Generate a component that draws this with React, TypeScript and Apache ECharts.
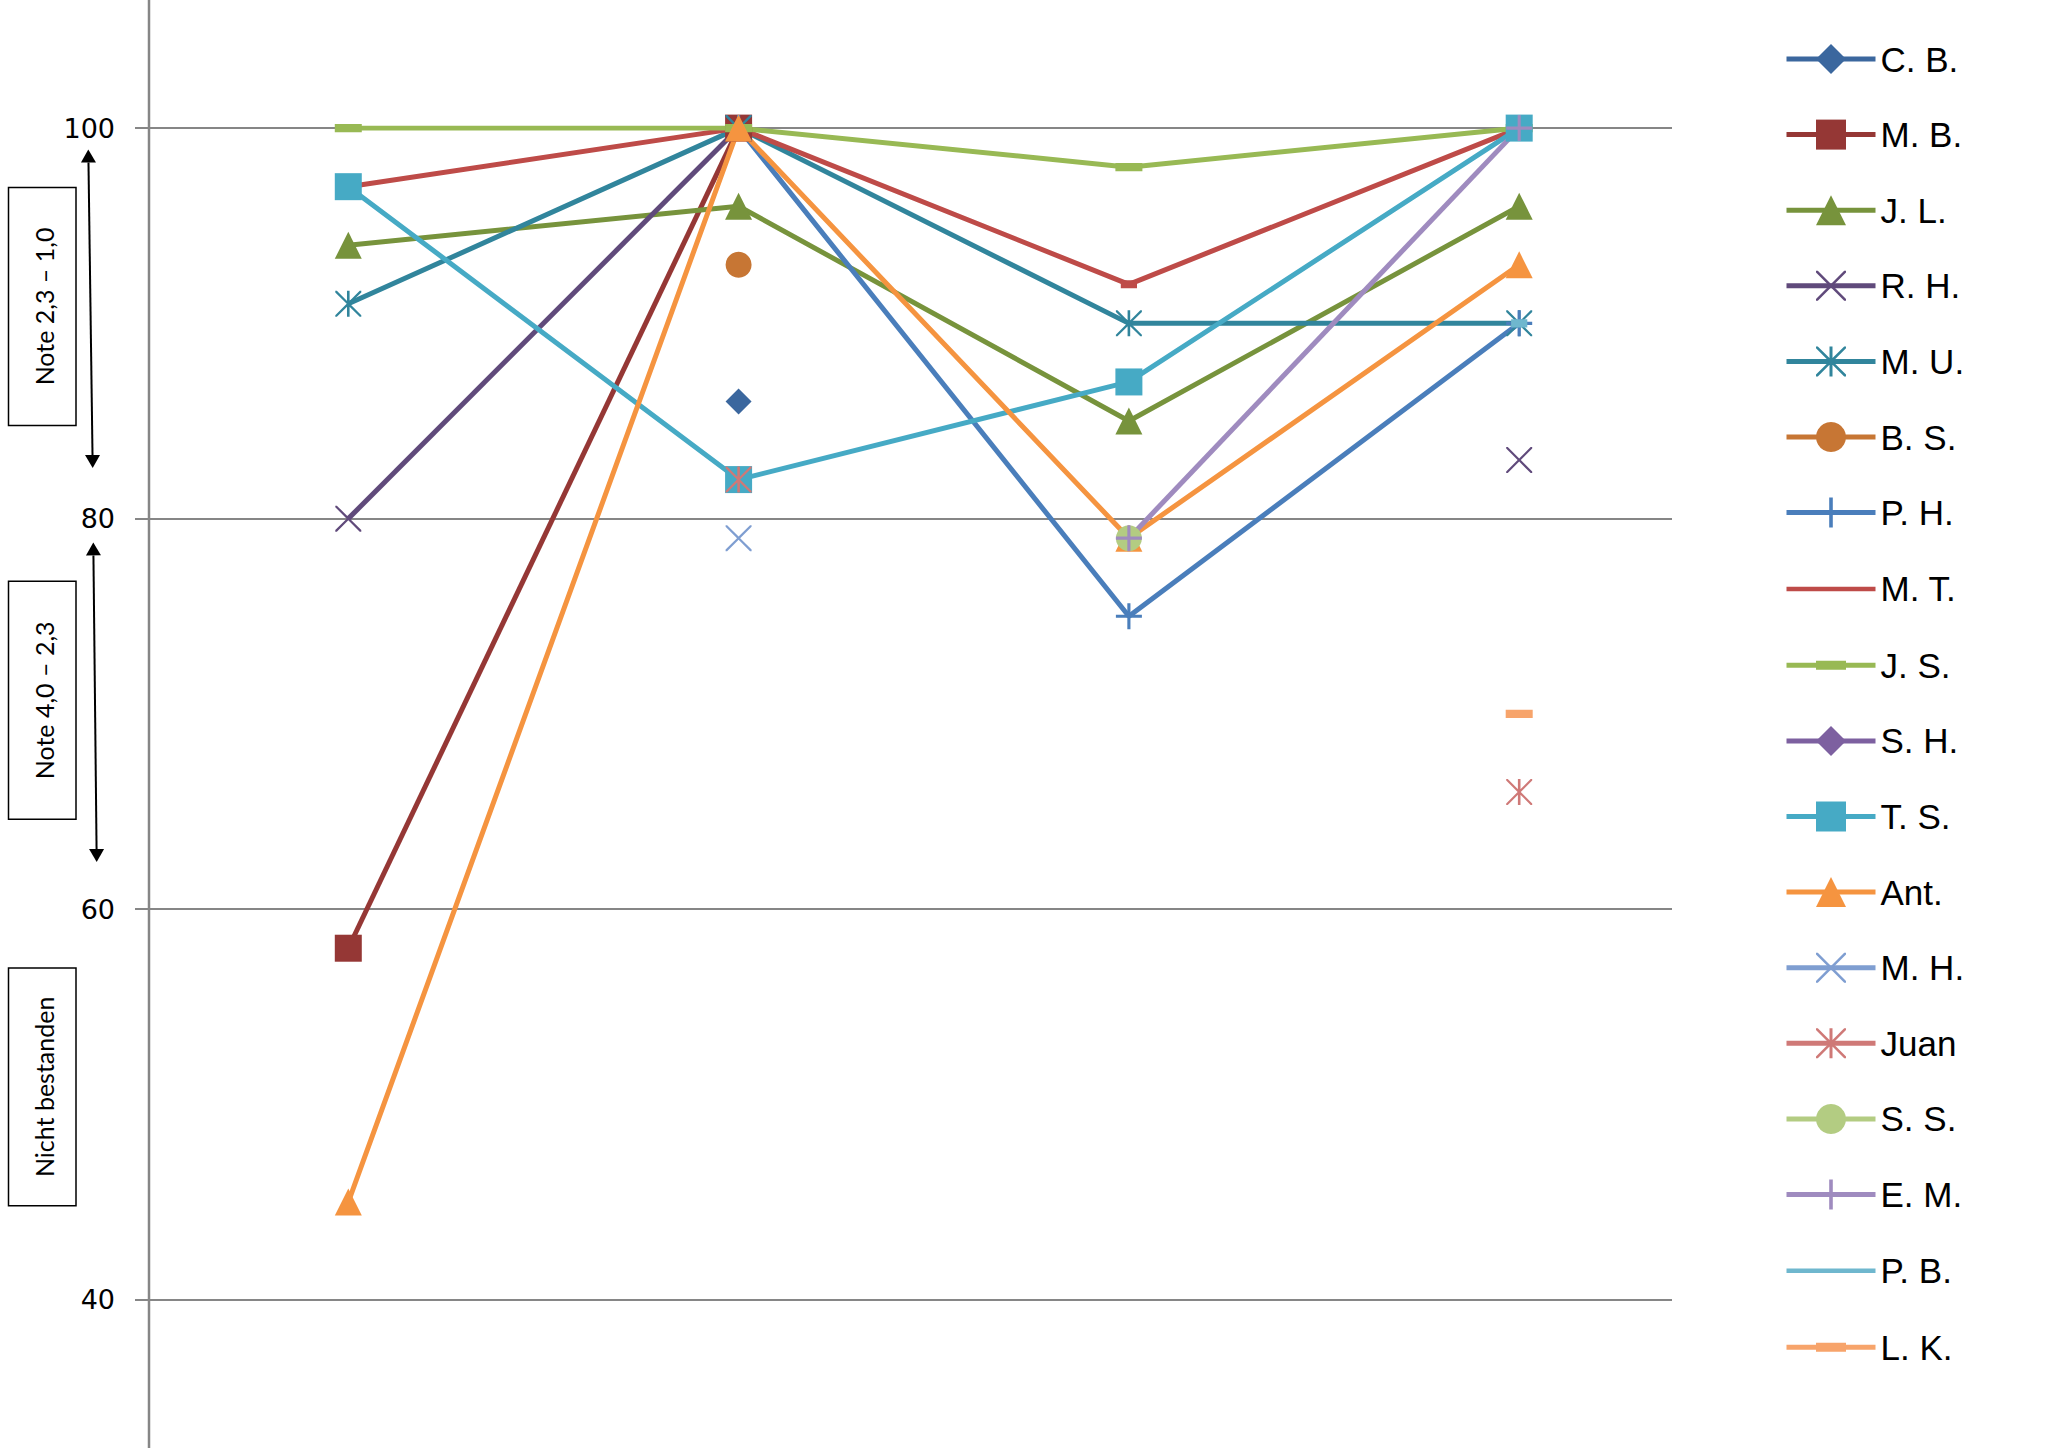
import React, { useEffect, useRef } from "react";
import * as echarts from "echarts";

// ---- data ----
const exams = [1, 2, 3, 4];
const yTickValues = [40, 60, 80, 100];

const studentNames = [
  "C. B.", "M. B.", "J. L.", "R. H.", "M. U.", "B. S.", "P. H.", "M. T.", "J. S.",
  "S. H.", "T. S.", "Ant.", "M. H.", "Juan", "S. S.", "E. M.", "P. B.", "L. K.",
];

const cbScores = [null, 86, null, null];
const mbScores = [58, 100, null, null];
const jlScores = [94, 96, 85, 96];
const rhScores = [80, 100, null, 83];
const muScores = [91, 100, 90, 90];
const bsScores = [null, 93, null, null];
const phScores = [null, 100, 75, 90];
const mtScores = [97, 100, 92, 100];
const jsScores = [100, 100, 98, 100];
const shScores = [null, null, null, null];
const tsScores = [97, 82, 87, 100];
const antScores = [45, 100, 79, 93];
const mhScores = [null, 79, null, null];
const juanScores = [null, 82, null, 66];
const ssScores = [null, null, 79, null];
const emScores = [null, null, 79, 100];
const pbScores = [null, null, null, 90];
const lkScores = [null, null, null, 70];

const allScores = [
  cbScores, mbScores, jlScores, rhScores, muScores, bsScores, phScores, mtScores, jsScores,
  shScores, tsScores, antScores, mhScores, juanScores, ssScores, emScores, pbScores, lkScores,
];

const markerKinds = [
  "diamond", "square", "triangle", "x", "star", "circle", "plus", "dot", "dash",
  "diamond", "square", "triangle", "x", "star", "circle", "plus", "dot", "dash",
];

const seriesColors = [
  "#3B679E", "#953735", "#77933C", "#604A7B", "#31859C", "#C77634", "#4A7EBB", "#BE4B48", "#98B954",
  "#7D60A0", "#46AAC5", "#F59440", "#7F9ED1", "#CF7977", "#B3CC82", "#9F8BBF", "#6FB7CE", "#F7A46B",
];

// ---- marker shapes ----
const X_D = "M0,0L1.2,0L10,8.8L18.8,0L20,0L20,1.2L11.2,10L20,18.8L20,20L18.8,20L10,11.2L1.2,20L0,20L0,18.8L8.8,10L0,1.2Z";
const symbolFor = (kind: string) => {
  switch (kind) {
    case "diamond": return { symbol: "diamond", size: 26 };
    case "square": return { symbol: "rect", size: 27 };
    case "triangle": return { symbol: "triangle", size: 27 };
    case "circle": return { symbol: "circle", size: 26 };
    case "x": return { symbol: "path://" + X_D, size: 26 };
    case "star": return { symbol: "path://" + X_D + "M9,0L11,0L11,20L9,20Z", size: 26 };
    case "plus": return { symbol: "path://M8.8,0L11.2,0L11.2,8.8L20,8.8L20,11.2L11.2,11.2L11.2,20L8.8,20L8.8,11.2L0,11.2L0,8.8L8.8,8.8Z", size: 26 };
    case "dot": return { symbol: "path://M0,0L0.05,0L0,0.05Z M4,7L16,7L16,13L4,13Z M20,20L19.95,20L20,19.95Z", size: 27 };
    case "dash": return { symbol: "path://M0,0L0.05,0L0,0.05Z M0,7L20,7L20,13L0,13Z M20,20L19.95,20L20,19.95Z", size: 27 };
    default: return { symbol: "circle", size: 26 };
  }
};

// plain line legend icon (for the "dot" marker series, whose legend shows only a line)
const PLAIN_LINE_ICON = "path://M0,0L0.05,0L0,0.05Z M0,16.5L89,16.5L89,21L0,21Z M89,37.5L88.95,37.5L89,37.45Z";

// ---- annotation helpers ----
function arrow(x1: number, y1: number, x2: number, y2: number) {
  const len = Math.hypot(x2 - x1, y2 - y1);
  const dx = (x2 - x1) / len, dy = (y2 - y1) / len;
  const px = -dy, py = dx;
  const hl = 13, hw = 7.5;
  const b1 = [x1 + dx * hl, y1 + dy * hl];
  const b2 = [x2 - dx * hl, y2 - dy * hl];
  return [
    { type: "line", shape: { x1: b1[0], y1: b1[1], x2: b2[0], y2: b2[1] }, style: { stroke: "#000", lineWidth: 2 } },
    { type: "polygon", shape: { points: [[x1, y1], [b1[0] + px * hw, b1[1] + py * hw], [b1[0] - px * hw, b1[1] - py * hw]] }, style: { fill: "#000" } },
    { type: "polygon", shape: { points: [[x2, y2], [b2[0] + px * hw, b2[1] + py * hw], [b2[0] - px * hw, b2[1] - py * hw]] }, style: { fill: "#000" } },
  ];
}

function noteBox(y1: number, y2: number, label: string) {
  return [
    { type: "rect", shape: { x: 8.5, y: y1, width: 67.5, height: y2 - y1 }, style: { fill: "#fff", stroke: "#000", lineWidth: 1.5 } },
    {
      type: "text", x: 44, y: (y1 + y2) / 2, rotation: Math.PI / 2,
      style: { text: label, fontFamily: "Lato", fontSize: 25, fill: "#000", align: "center", verticalAlign: "middle" },
    },
  ];
}

export default function App() {
  const ref = useRef<HTMLDivElement>(null);

  useEffect(() => {
    if (!ref.current) return;
    const chart = echarts.init(ref.current, null, { renderer: "svg" });

    const series = studentNames.map((name, i) => {
      const sym = symbolFor(markerKinds[i]);
      return {
        name,
        type: "line",
        data: exams.map((e, j) => [e, allScores[i][j]]),
        symbol: sym.symbol,
        symbolSize: sym.size,
        showSymbol: true,
        connectNulls: false,
        lineStyle: { color: seriesColors[i], width: 5 },
        itemStyle: { color: seriesColors[i] },
        emphasis: { disabled: true },
      };
    });

    const legendData = studentNames.map((name, i) =>
      markerKinds[i] === "dot" ? { name, icon: PLAIN_LINE_ICON } : { name }
    );

    chart.setOption({
      animation: false,
      backgroundColor: "#ffffff",
      grid: { left: 149, right: 376, top: 128.1, bottom: 148.3 },
      xAxis: { type: "value", min: 0.4894, max: 4.3915, show: false },
      yAxis: {
        type: "value",
        min: yTickValues[0],
        max: yTickValues[yTickValues.length - 1],
        interval: 20,
        axisLine: { show: false },
        axisTick: { show: true, length: 14, lineStyle: { color: "#868686", width: 2 } },
        splitLine: { show: true, lineStyle: { color: "#868686", width: 2 } },
        axisLabel: { margin: 34, fontFamily: "DejaVu Sans", fontSize: 27, color: "#000" },
      },
      legend: {
        orient: "vertical",
        left: 1784,
        top: 41,
        padding: 0,
        itemWidth: 89,
        itemHeight: 37.5,
        itemGap: 39.6,
        selectedMode: false,
        symbolKeepAspect: false,
        lineStyle: { width: 5 },
        data: legendData,
        textStyle: { fontFamily: "Liberation Sans", fontSize: 35, color: "#000", lineHeight: 36 },
      },
      graphic: [
        { type: "line", shape: { x1: 149, y1: 0, x2: 149, y2: 1448 }, style: { stroke: "#868686", lineWidth: 2.5 }, z: 1 },
        ...noteBox(187.5, 425.4, "Note 2,3 – 1,0"),
        ...noteBox(581.3, 819.3, "Note 4,0 – 2,3"),
        ...noteBox(968, 1205.7, "Nicht bestanden"),
        ...arrow(88.3, 149.5, 92.7, 468),
        ...arrow(93.3, 542.4, 96.7, 862),
      ],
      series,
    });

    return () => chart.dispose();
  }, []);

  return (
    <div
      ref={ref}
      style={{ position: "fixed", left: 0, top: 0, width: 2048, height: 1448, background: "#fff" }}
    />
  );
}
